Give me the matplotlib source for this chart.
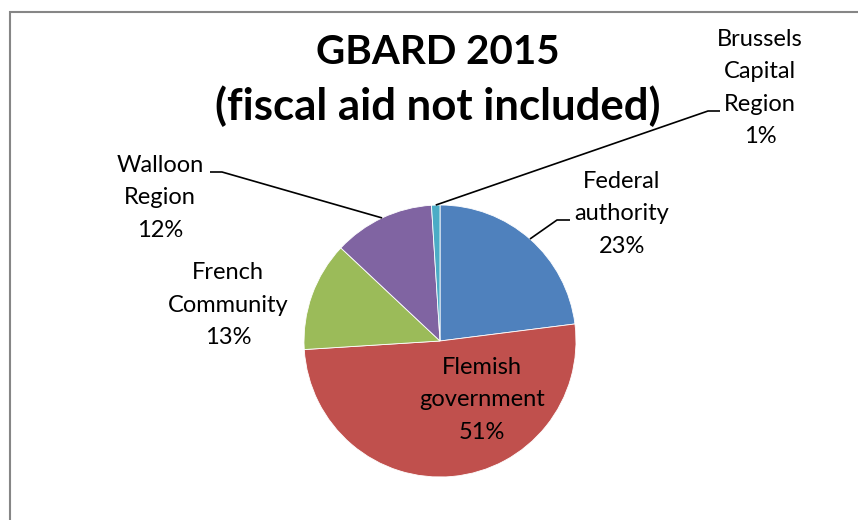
import matplotlib
matplotlib.use("Agg")
import matplotlib.pyplot as plt
import numpy as np
from matplotlib.patches import Rectangle

categories = ["Federal\nauthority", "Flemish\ngovernment", "French\nCommunity", "Walloon\nRegion", "Brussels\nCapital\nRegion"]
values = [23, 51, 13, 12, 1]
colors = ["#4F81BD", "#C0504D", "#9BBB59", "#8064A2", "#4BACC6"]
title_lines = ["GBARD 2015", "(fiscal aid not included)"]

W, H = 858, 520
fig = plt.figure(figsize=(W / 100, H / 100), dpi=100)
ax = fig.add_axes([0, 0, 1, 1])

FONT = "Lato"

# frame
fig.patches.append(Rectangle((9.5 / W, -0.1), 1.2, (H - 11.5) / H + 0.1, transform=fig.transFigure,
                             fill=False, edgecolor="#868686", linewidth=1.5))

cx, cy, r = 440, H - 341, 136
wedges, _ = ax.pie(values, colors=colors, startangle=90, counterclock=False,
                   center=(cx, cy), radius=r, frame=True,
                   wedgeprops=dict(edgecolor="white", linewidth=0.6))
ax.set_xlim(0, W)
ax.set_ylim(0, H)
ax.set_aspect("equal")
ax.axis("off")

for line, ty, fs in zip(title_lines, (52, 106), (29, 31.5)):
    ax.text(438, H - ty, line, ha="center", va="center", fontsize=fs, fontweight="bold",
            family=FONT)

labels = [f"{c}\n{v}%" for c, v in zip(categories, values)]
# label centre positions (pixel coords, y from top) and leader elbows
label_pos = [(622, 214), (482, 400), (228, 305), (160, 198), (760, 88)]
elbows = [((557, 220), (570, 220)), None, None, ((222, 172), (210, 172)), ((708, 111), (720, 111))]

for w, lab, (lx, ly), el in zip(wedges, labels, label_pos, elbows):
    ax.text(lx, H - ly, lab, ha="center", va="center", fontsize=17, family=FONT,
            linespacing=1.67, color="black")
    if el is not None:
        mid = np.deg2rad((w.theta1 + w.theta2) / 2)
        px, py = cx + r * np.cos(mid), cy + r * np.sin(mid)
        (ex, ey), (tx, ty) = el
        ax.plot([px, ex, tx], [py, H - ey, H - ty], color="black", linewidth=1.2,
                solid_capstyle="butt")

fig.savefig("out.png", dpi=100)
